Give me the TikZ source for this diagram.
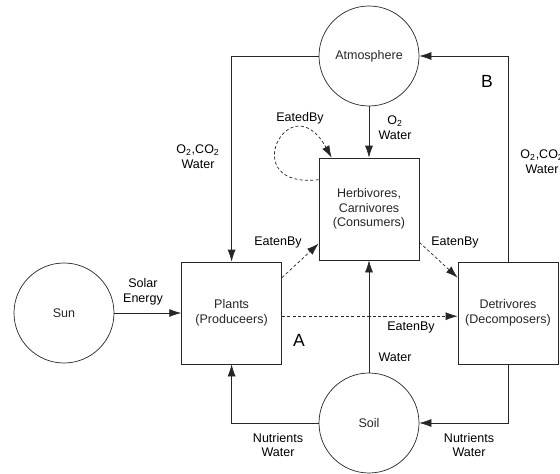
\documentclass[tikz,border=0pt]{standalone}
\usepackage{fontspec}
\setmainfont{Liberation Sans}
\usetikzlibrary{arrows.meta}

\begin{document}
\begin{tikzpicture}[
    font=\fontsize{8.9}{10.4}\selectfont,
    every path/.style={line width=0.5pt, black!85},
    pool/.style={circle, draw, minimum size=2.5cm, inner sep=0pt},
    box/.style={rectangle, draw, minimum width=2.5cm, minimum height=2.55cm, align=center, inner sep=1pt},
    lbl/.style={align=center, inner sep=0pt, text=black},
    big/.style={inner sep=0pt, font=\fontsize{12.5}{14}\selectfont, text=black},
    arrow/.style={-{Latex[length=3mm,width=2mm]}},
    eaten/.style={arrow, dash pattern=on 2.2pt off 1.6pt}
]
    \useasboundingbox (0,0) rectangle (14,11.825);

    % Pools and compartments
    \node[pool] (sun) at (1.6,4.0) {Sun};
    \node[pool] (atm) at (9.225,10.425) {Atmosphere};
    \node[pool] (soil) at (9.225,1.25) {Soil};
    \node[box] (plants) at (5.79,4.0) {Plants\\(Produceers)};
    \node[box] (cons) at (9.225,6.6) {Herbivores,\\Carnivores\\(Consumers)};
    \node[box] (detr) at (12.7,4.0) {Detrivores\\(Decomposers)};

    % Flows of matter and energy
    \draw[arrow] (sun) -- (plants);
    \draw[arrow] (atm.west) -| (plants.north);
    \draw[arrow] (detr.north) |- (atm.east);
    \draw[arrow] (atm) -- (cons);
    \draw[arrow] (soil) -- (cons);
    \draw[arrow] (soil.west) -| (plants.south);
    \draw[arrow] (detr.south) |- (soil.east);

    % Feeding relations
    \draw[eaten] ([yshift=-0.4cm]plants.north east) -- ([yshift=0.42cm]cons.south west);
    \draw[eaten] ([yshift=0.45cm]cons.south east) -- ([yshift=-0.4cm]detr.north west);
    \draw[eaten] ([yshift=-0.08cm]plants.east) -- ([yshift=-0.08cm]detr.west);
    \draw[eaten] ([yshift=-0.55cm]cons.north west) .. controls +(-2.1,-0.25) and +(-1.05,1.9) .. ([xshift=0.325cm]cons.north west);

    % Labels
    \node[lbl] (solar) at (3.575,4.525) {Solar\\Energy};
    \node[lbl] (gasl) at (4.95,7.9) {O\textsubscript{2},CO\textsubscript{2}\\Water};
    \node[lbl] (gasr) at (13.55,7.775) {O\textsubscript{2},CO\textsubscript{2}\\Water};
    \node[lbl] (gasc) at (9.875,8.625) {O\textsubscript{2}\\Water};
    \node[lbl] (self) at (7.5,8.875) {EatedBy};
    \node[lbl] (ebl) at (6.95,5.775) {EatenBy};
    \node[lbl] (ebr) at (11.375,5.775) {EatenBy};
    \node[lbl] (ebm) at (10.275,3.65) {EatenBy};
    \node[lbl] (wat) at (9.875,2.9) {Water};
    \node[lbl] (nutl) at (6.95,0.7) {Nutrients\\Water};
    \node[lbl] (nutr) at (11.725,0.7) {Nutrients\\Water};
    \node[big] (lA) at (7.475,3.325) {A};
    \node[big] (lB) at (12.175,9.8) {B};
\end{tikzpicture}
\end{document}
